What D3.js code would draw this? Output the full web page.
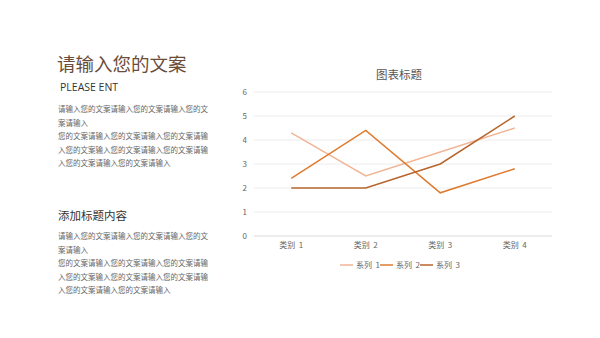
<!DOCTYPE html>
<html>
<head>
<meta charset="utf-8">
<script src="https://cdn.jsdelivr.net/npm/d3@7"></script>
<style>
  body { margin: 0; background: #fff; }
  svg { font-family: "Noto Sans CJK SC", "Noto Sans", sans-serif; }
</style>
</head>
<body>
<svg id="chart" width="600" height="338"></svg>
<script>
// chart data
var categories = ['类别 1', '类别 2', '类别 3', '类别 4'];
var seriesNames = ['系列 1', '系列 2', '系列 3'];
var series1 = [4.3, 2.5, 3.5, 4.5];
var series2 = [2.4, 4.4, 1.8, 2.8];
var series3 = [2, 2, 3, 5];
var yTicks = [0, 1, 2, 3, 4, 5, 6];
var colors = ['#F1B595', '#E07A2E', '#B8652D'];

// left side text
var bodyLines = [
  '请输入您的文案请输入您的文案请输入您的文',
  '案请输入',
  '您的文案请输入您的文案请输入您的文案请输',
  '入您的文案输入您的文案请输入您的文案请输',
  '入您的文案请输入您的文案请输入'
];

var svg = d3.select('#chart');

svg.append('text').attr('x', 57).attr('y', 71)
  .attr('font-size', 18.5).attr('fill', '#6B4C3B').text('请输入您的文案');
svg.append('text').attr('x', 60).attr('y', 91)
  .attr('font-size', 10.5).attr('fill', '#333').attr('font-family', 'Open Sans, sans-serif')
  .text('PLEASE ENT');

svg.append('g').selectAll('text').data(bodyLines).enter().append('text')
  .attr('x', 58).attr('y', function (d, i) { return 112 + i * 13.5; })
  .attr('font-size', 7.5).attr('fill', '#666').text(function (d) { return d; });

svg.append('text').attr('x', 58).attr('y', 220)
  .attr('font-size', 11.5).attr('fill', '#333').text('添加标题内容');

svg.append('g').selectAll('text').data(bodyLines).enter().append('text')
  .attr('x', 58).attr('y', function (d, i) { return 239 + i * 13.5; })
  .attr('font-size', 7.5).attr('fill', '#666').text(function (d) { return d; });

// chart
var x = d3.scaleBand().domain(categories).range([254, 552]);
var y = d3.scaleLinear().domain([0, 6]).range([236, 92]);

svg.append('text').attr('x', 399).attr('y', 79).attr('text-anchor', 'middle')
  .attr('font-size', 11.5).attr('fill', '#555').text('图表标题');

var grid = svg.append('g');
grid.selectAll('line').data(yTicks).enter().append('line')
  .attr('x1', 254).attr('x2', 552)
  .attr('y1', function (d) { return y(d); }).attr('y2', function (d) { return y(d); })
  .attr('stroke', function (d) { return d === 0 ? '#d9d9d9' : '#ececec'; })
  .attr('stroke-width', 1);

grid.selectAll('text').data(yTicks).enter().append('text')
  .attr('x', 247).attr('y', function (d) { return y(d) + 3; })
  .attr('text-anchor', 'end').attr('font-size', 8).attr('fill', '#666')
  .text(function (d) { return d; });

svg.append('g').selectAll('text').data(categories).enter().append('text')
  .attr('x', function (d) { return x(d) + x.bandwidth() / 2; })
  .attr('y', 248).attr('text-anchor', 'middle').attr('font-size', 8).attr('fill', '#666')
  .attr('xml:space', 'preserve')
  .text(function (d) { return d.replace(' ', '  '); });

var allSeries = [series1, series2, series3];
var line = d3.line()
  .x(function (d, i) { return x(categories[i]) + x.bandwidth() / 2; })
  .y(function (d) { return y(d); });

svg.append('g').selectAll('path').data(allSeries).enter().append('path')
  .attr('d', line).attr('fill', 'none')
  .attr('stroke', function (d, i) { return colors[i]; })
  .attr('stroke-width', 1.5);

// legend
var legend = svg.append('g').selectAll('g').data(seriesNames).enter().append('g')
  .attr('transform', function (d, i) { return 'translate(' + (340 + i * 40) + ',265)'; });
legend.append('line').attr('x1', 0).attr('x2', 13).attr('y1', 0).attr('y2', 0)
  .attr('stroke', function (d, i) { return colors[i]; }).attr('stroke-width', 1.5);
legend.append('text').attr('x', 16).attr('y', 3).attr('font-size', 8).attr('fill', '#666')
  .attr('xml:space', 'preserve')
  .text(function (d) { return d.replace(' ', '  '); });
</script>
</body>
</html>
